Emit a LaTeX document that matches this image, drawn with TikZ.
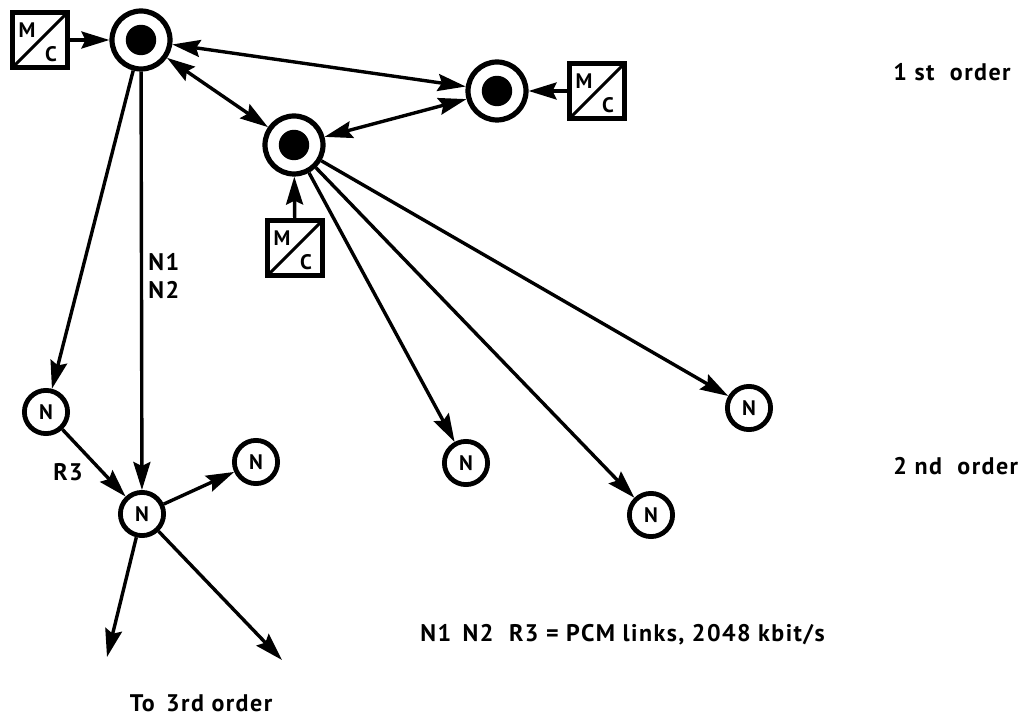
\documentclass[tikz,border=0pt]{standalone}
\usepackage{fontspec}
\setmainfont{PT Sans}[LetterSpace=6]
\usetikzlibrary{arrows.meta}
\begin{document}
\begin{tikzpicture}[x=0.5pt,y=-0.5pt,
  txt/.style={font=\fontsize{12pt}{14pt}\selectfont\bfseries, inner sep=0pt},
  dbl/.style={circle, draw, line width=2.6pt, minimum size=29pt, inner sep=0pt,
    path picture={\fill (path picture bounding box.center) circle (7.6pt);}},
  nn/.style={circle, draw, line width=2.4pt, minimum size=21.6pt, inner sep=0pt,
    font=\fontsize{10.5pt}{12pt}\selectfont\bfseries},
  mc/.style={rectangle, draw, line width=2.5pt, minimum size=27.5pt, inner sep=0pt,
    path picture={
      \draw[line width=1.5pt] (path picture bounding box.south west) -- (path picture bounding box.north east);
      \node[font=\fontsize{10.5pt}{12pt}\selectfont\bfseries, inner sep=0pt] at ([shift={(-6.5pt,5pt)}]path picture bounding box.center) {M};
      \node[font=\fontsize{10.5pt}{12pt}\selectfont\bfseries, inner sep=0pt] at ([shift={(5.5pt,-7pt)}]path picture bounding box.center) {C};
    }},
  lk/.style={line width=1.7pt},
  arr/.style={lk, -{Stealth[length=14pt,width=8.5pt,inset=2pt]}},
  darr/.style={lk, {Stealth[length=14pt,width=8.5pt,inset=2pt]}-{Stealth[length=14pt,width=8.5pt,inset=2pt]}}
]
\useasboundingbox (0,0) rectangle (1034,715);

% first order exchanges
\node[dbl] (A) at (141,40) {};
\node[dbl] (B) at (497,91) {};
\node[dbl] (C) at (294,145) {};
\node[mc] (M1) at (40,40) {};
\node[mc] (M2) at (597,91) {};
\node[mc] (M3) at (295,248) {};

% second order nodes
\node[nn] (N1) at (46,412) {N};
\node[nn] (N0) at (142,514) {N};
\node[nn] (N2) at (256,462) {N};
\node[nn] (N3) at (466,463) {N};
\node[nn] (N4) at (651,515) {N};
\node[nn] (N5) at (749,408) {N};

\coordinate (E1) at (107,657);
\coordinate (E2) at (282,660);

% connectors
\draw[arr] (M1) -- (A);
\draw[arr] (M2) -- (B);
\draw[arr] (M3) -- (C);
\draw[darr] (A) -- (B);
\draw[darr] (A) -- (C);
\draw[darr] (C) -- (B);
\draw[arr] (A) -- (N1);
\draw[arr] (A) -- (N0);
\draw[arr] (N1) -- (N0);
\draw[arr] (N0) -- (N2);
\draw[arr] (N0) -- (E1);
\draw[arr] (N0) -- (E2);
\draw[arr] (C) -- (N3);
\draw[arr] (C) -- (N4);
\draw[arr] (C) -- (N5);

% labels
\node[txt, anchor=west, align=left] (L1) at (148,276) {N1\\N2};
\node[txt] (L2) at (68,472) {R3};
\node[txt, anchor=west] (L3) at (420,635) {N1\, N2\,\, R3 = PCM links, 2048 kbit/s};
\node[txt] (L4) at (201,703) {To\, 3rd order};
\node[txt, anchor=west] (L5) at (893,72) {1 st\,\, order};
\node[txt, anchor=west] (L6) at (893,466) {2 nd\,\, order};
\end{tikzpicture}
\end{document}
